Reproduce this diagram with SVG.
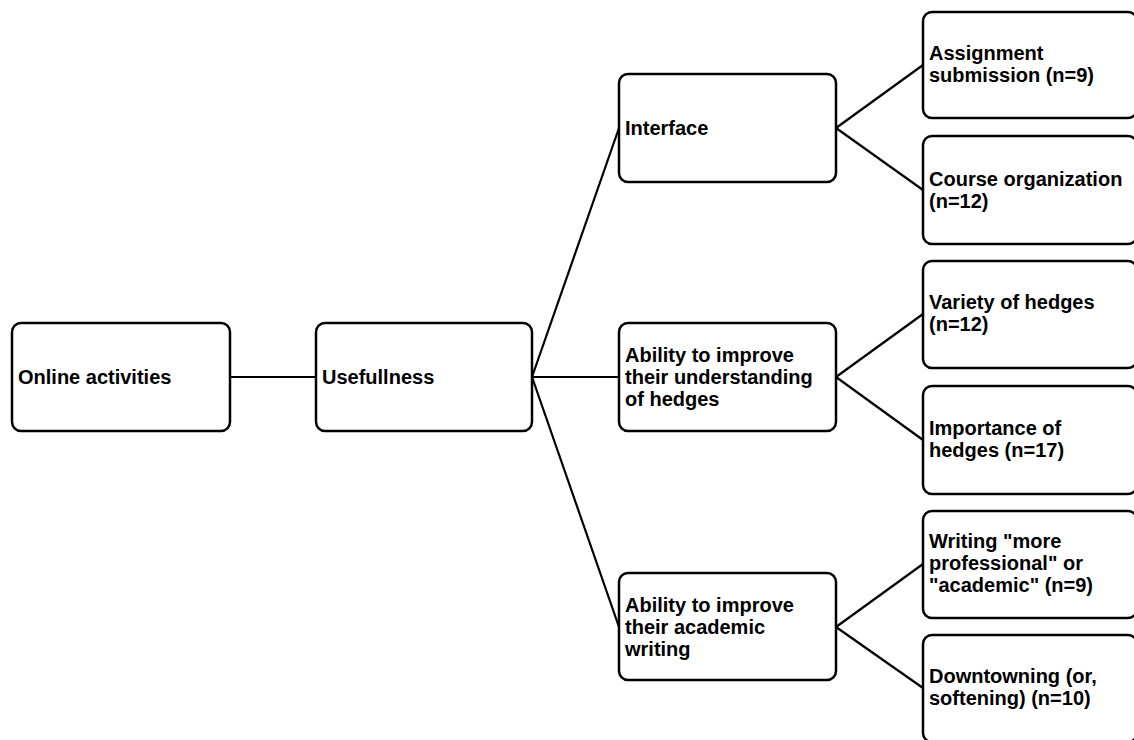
<svg xmlns="http://www.w3.org/2000/svg" width="1134" height="740" viewBox="0 0 1134 740">
<style>
.box{fill:#fff;stroke:#000;stroke-width:2.5}
.t{font-family:"Liberation Sans",Arial,sans-serif;font-weight:bold;font-size:20px;fill:#000}
.c{stroke:#000;stroke-width:2.2;fill:none}
</style>
<rect width="1134" height="740" fill="#fff"/>
<g id="connectors">
<line class="c" x1="230" y1="377" x2="316" y2="377"/>
<line class="c" x1="532" y1="377" x2="619" y2="128"/>
<line class="c" x1="532" y1="377" x2="619" y2="377"/>
<line class="c" x1="532" y1="377" x2="619" y2="627"/>
<line class="c" x1="836" y1="128" x2="923" y2="65"/>
<line class="c" x1="836" y1="128" x2="923" y2="190"/>
<line class="c" x1="836" y1="377" x2="923" y2="314"/>
<line class="c" x1="836" y1="377" x2="923" y2="440"/>
<line class="c" x1="836" y1="627" x2="923" y2="564"/>
<line class="c" x1="836" y1="627" x2="923" y2="688"/>
</g>
<g id="online-activities">
<rect class="box" x="12" y="323" width="218" height="108" rx="9"/>
<text class="t" x="18" y="384">Online activities</text>
</g>
<g id="usefullness">
<rect class="box" x="316" y="323" width="216" height="108" rx="9"/>
<text class="t" x="322" y="384">Usefullness</text>
</g>
<g id="interface">
<rect class="box" x="619" y="74" width="217" height="108" rx="9"/>
<text class="t" x="625" y="135">Interface</text>
</g>
<g id="ability-hedges">
<rect class="box" x="619" y="323" width="217" height="108" rx="9"/>
<text class="t" x="625"><tspan x="625" y="362">Ability to improve</tspan><tspan x="625" y="384">their understanding</tspan><tspan x="625" y="406">of hedges</tspan></text>
</g>
<g id="ability-writing">
<rect class="box" x="619" y="573" width="217" height="107" rx="9"/>
<text class="t" x="625"><tspan x="625" y="612">Ability to improve</tspan><tspan x="625" y="634">their academic</tspan><tspan x="625" y="656">writing</tspan></text>
</g>
<g id="assignment">
<rect class="box" x="923" y="12" width="214" height="106" rx="9"/>
<text class="t"><tspan x="929" y="60">Assignment</tspan><tspan x="929" y="82">submission (n=9)</tspan></text>
</g>
<g id="course">
<rect class="box" x="923" y="136" width="214" height="108" rx="9"/>
<text class="t"><tspan x="929" y="186">Course organization</tspan><tspan x="929" y="208">(n=12)</tspan></text>
</g>
<g id="variety">
<rect class="box" x="923" y="261" width="214" height="107" rx="9"/>
<text class="t"><tspan x="929" y="309">Variety of hedges</tspan><tspan x="929" y="331">(n=12)</tspan></text>
</g>
<g id="importance">
<rect class="box" x="923" y="386" width="214" height="108" rx="9"/>
<text class="t"><tspan x="929" y="435">Importance of</tspan><tspan x="929" y="457">hedges (n=17)</tspan></text>
</g>
<g id="writing-professional">
<rect class="box" x="923" y="511" width="214" height="107" rx="9"/>
<text class="t"><tspan x="929" y="548">Writing "more</tspan><tspan x="929" y="570">professional" or</tspan><tspan x="929" y="592">"academic" (n=9)</tspan></text>
</g>
<g id="downtowning">
<rect class="box" x="923" y="635" width="214" height="107" rx="9"/>
<text class="t"><tspan x="929" y="683">Downtowning (or,</tspan><tspan x="929" y="705">softening) (n=10)</tspan></text>
</g>
</svg>
